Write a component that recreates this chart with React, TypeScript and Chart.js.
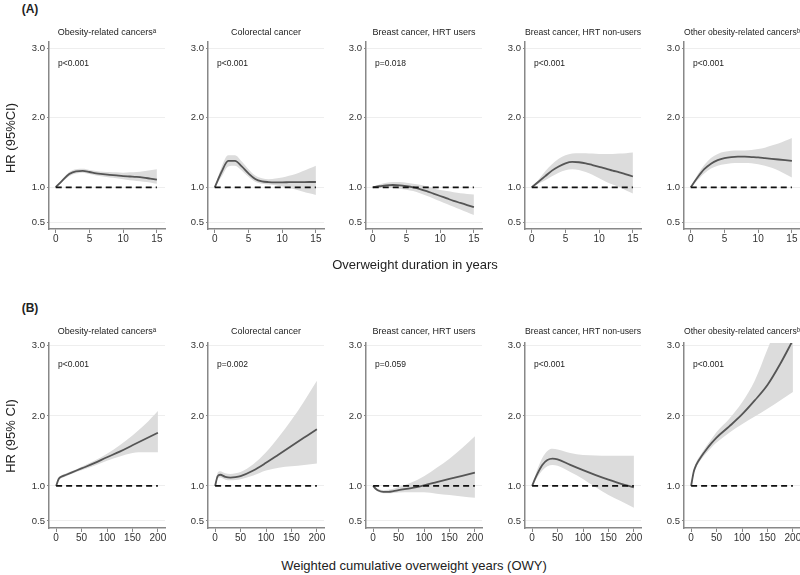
import React, { useEffect, useRef } from "react";
import { Chart, registerables } from "chart.js";

Chart.register(...registerables);
Chart.defaults.font.family = "'Liberation Sans', Arial, sans-serif";

// ---------- data ----------
const panelTitles = [
  "Obesity-related cancersᵃ",
  "Colorectal cancer",
  "Breast cancer, HRT users",
  "Breast cancer, HRT non-users",
  "Other obesity-related cancersᵇ",
];
const pValuesA = ["p<0.001", "p<0.001", "p=0.018", "p<0.001", "p<0.001"];
const pValuesB = ["p<0.001", "p=0.002", "p=0.059", "p<0.001", "p<0.001"];

const xTicksA = [0, 5, 10, 15];
const xTicksB = [0, 50, 100, 150, 200];
const yTicks = [0.5, 1, 2, 3];

// Row A: overweight duration in years
const yearsA = [0, 1, 2, 3, 4, 5, 6, 7, 8, 9, 10, 11, 12, 13, 14, 15];

const hrA1 = [1.0, 1.1, 1.19, 1.23, 1.235, 1.22, 1.2, 1.19, 1.18, 1.17, 1.16, 1.155, 1.15, 1.14, 1.125, 1.11];
const loA1 = [1.0, 1.08, 1.16, 1.2, 1.21, 1.19, 1.17, 1.155, 1.14, 1.13, 1.115, 1.1, 1.09, 1.08, 1.07, 1.05];
const hiA1 = [1.0, 1.12, 1.22, 1.26, 1.265, 1.25, 1.235, 1.225, 1.22, 1.215, 1.21, 1.215, 1.22, 1.23, 1.245, 1.26];

const hrA2 = [1.0, 1.22, 1.38, 1.38, 1.3, 1.2, 1.12, 1.085, 1.075, 1.072, 1.072, 1.073, 1.074, 1.075, 1.076, 1.076];
const loA2 = [1.0, 1.15, 1.3, 1.31, 1.24, 1.15, 1.08, 1.05, 1.04, 1.03, 1.01, 0.99, 0.97, 0.94, 0.915, 0.89];
const hiA2 = [1.0, 1.29, 1.46, 1.46, 1.37, 1.26, 1.17, 1.13, 1.115, 1.125, 1.14, 1.165, 1.19, 1.23, 1.27, 1.31];

const hrA3 = [1.0, 1.015, 1.028, 1.033, 1.028, 1.015, 0.998, 0.975, 0.945, 0.91, 0.875, 0.84, 0.805, 0.775, 0.745, 0.715];
const loA3 = [1.0, 0.99, 0.995, 0.99, 0.98, 0.965, 0.945, 0.915, 0.88, 0.84, 0.8, 0.76, 0.72, 0.68, 0.64, 0.6];
const hiA3 = [1.0, 1.04, 1.065, 1.075, 1.075, 1.065, 1.05, 1.035, 1.01, 0.985, 0.96, 0.945, 0.93, 0.915, 0.905, 0.895];

const hrA4 = [1.0, 1.08, 1.16, 1.24, 1.3, 1.345, 1.365, 1.36, 1.345, 1.32, 1.295, 1.27, 1.24, 1.215, 1.185, 1.155];
const loA4 = [1.0, 1.05, 1.1, 1.16, 1.21, 1.245, 1.26, 1.25, 1.22, 1.18, 1.13, 1.08, 1.04, 1.0, 0.955, 0.91];
const hiA4 = [1.0, 1.11, 1.23, 1.33, 1.41, 1.46, 1.485, 1.49, 1.49, 1.485, 1.48, 1.48, 1.48, 1.485, 1.49, 1.5];

const hrA5 = [1.0, 1.14, 1.26, 1.34, 1.39, 1.42, 1.435, 1.44, 1.44, 1.435, 1.43, 1.42, 1.41, 1.4, 1.39, 1.38];
const loA5 = [1.0, 1.1, 1.2, 1.27, 1.31, 1.33, 1.345, 1.35, 1.35, 1.345, 1.33, 1.31, 1.28, 1.24, 1.19, 1.14];
const hiA5 = [1.0, 1.18, 1.32, 1.42, 1.48, 1.51, 1.525, 1.53, 1.53, 1.535, 1.55, 1.57, 1.6, 1.63, 1.67, 1.71];

// Row B: weighted cumulative overweight years (OWY)
const owyB = [0, 5, 10, 20, 30, 40, 50, 75, 100, 125, 150, 175, 200];

const hrB1 = [1.0, 1.1, 1.13, 1.16, 1.19, 1.22, 1.25, 1.325, 1.41, 1.49, 1.58, 1.67, 1.76];
const loB1 = [1.0, 1.08, 1.11, 1.14, 1.17, 1.2, 1.225, 1.29, 1.36, 1.42, 1.47, 1.48, 1.48];
const hiB1 = [1.0, 1.12, 1.15, 1.18, 1.21, 1.24, 1.275, 1.36, 1.46, 1.58, 1.72, 1.88, 2.07];

const hrB2 = [1.0, 1.14, 1.16, 1.13, 1.12, 1.125, 1.14, 1.22, 1.33, 1.45, 1.57, 1.69, 1.81];
const loB2 = [1.0, 1.1, 1.12, 1.09, 1.08, 1.085, 1.095, 1.15, 1.22, 1.26, 1.28, 1.3, 1.32];
const hiB2 = [1.0, 1.19, 1.21, 1.18, 1.17, 1.18, 1.2, 1.31, 1.48, 1.7, 1.94, 2.21, 2.5];

const hrB3 = [1.0, 0.96, 0.935, 0.915, 0.915, 0.925, 0.94, 0.97, 1.01, 1.055, 1.1, 1.145, 1.19];
const loB3 = [1.0, 0.95, 0.92, 0.895, 0.895, 0.9, 0.905, 0.91, 0.91, 0.89, 0.87, 0.85, 0.83];
const hiB3 = [1.0, 0.975, 0.955, 0.94, 0.945, 0.96, 0.985, 1.05, 1.14, 1.26, 1.39, 1.54, 1.71];

const hrB4 = [1.0, 1.09, 1.17, 1.3, 1.37, 1.39, 1.38, 1.3, 1.225, 1.155, 1.09, 1.03, 0.98];
const loB4 = [1.0, 1.06, 1.12, 1.22, 1.28, 1.3, 1.29, 1.2, 1.1, 0.98, 0.87, 0.78, 0.69];
const hiB4 = [1.0, 1.12, 1.23, 1.4, 1.5, 1.53, 1.52, 1.47, 1.44, 1.435, 1.43, 1.43, 1.43];

const hrB5 = [1.0, 1.2, 1.3, 1.42, 1.52, 1.61, 1.69, 1.85, 2.02, 2.22, 2.44, 2.74, 3.08];
const loB5 = [1.0, 1.17, 1.26, 1.38, 1.47, 1.55, 1.62, 1.76, 1.88, 1.99, 2.1, 2.22, 2.34];
const hiB5 = [1.0, 1.23, 1.34, 1.46, 1.57, 1.67, 1.77, 1.96, 2.19, 2.5, 2.95, 3.4, 3.8];

// ---------- layout ----------
const PLOT_W = 116;
const Y_AXIS_W = 34;
const RIGHT_PAD = 34;
const X_AXIS_H = 25;
const plotLeft = (c: number) => Math.round(49 + 158.7 * c);

type PanelCfg = {
  row: number;
  col: number;
  title: string;
  p: string;
  xs: number[];
  mean: number[];
  lo: number[];
  hi: number[];
  xTicks: number[];
  xMin: number;
  xMax: number;
  yMax: number;
  canvasTop: number;
  plotTop: number;
  plotBottom: number;
};

const rowA = { canvasTop: 27, plotTop: 42, plotBottom: 229, xMin: -1, xMax: 16.2, yMax: 3.09 };
const rowB = { canvasTop: 326, plotTop: 343, plotBottom: 528, xMin: -14, xMax: 214, yMax: 3.04 };

const seriesA = [
  [hrA1, loA1, hiA1],
  [hrA2, loA2, hiA2],
  [hrA3, loA3, hiA3],
  [hrA4, loA4, hiA4],
  [hrA5, loA5, hiA5],
];
const seriesB = [
  [hrB1, loB1, hiB1],
  [hrB2, loB2, hiB2],
  [hrB3, loB3, hiB3],
  [hrB4, loB4, hiB4],
  [hrB5, loB5, hiB5],
];

const panels: PanelCfg[] = [];
seriesA.forEach((s, c) =>
  panels.push({
    row: 0, col: c, title: panelTitles[c], p: pValuesA[c], xs: yearsA,
    mean: s[0], lo: s[1], hi: s[2], xTicks: xTicksA, ...rowA,
  })
);
seriesB.forEach((s, c) =>
  panels.push({
    row: 1, col: c, title: panelTitles[c], p: pValuesB[c], xs: owyB,
    mean: s[0], lo: s[1], hi: s[2], xTicks: xTicksB, ...rowB,
  })
);

const pts = (xs: number[], ys: number[]) => xs.map((x, i) => ({ x, y: ys[i] }));

function Panel({ cfg }: { cfg: PanelCfg }) {
  const ref = useRef<HTMLCanvasElement>(null);
  const width = Y_AXIS_W + PLOT_W + RIGHT_PAD;
  const height = cfg.plotBottom - cfg.canvasTop + X_AXIS_H;
  const titlePad = cfg.plotTop - cfg.canvasTop - 12;

  useEffect(() => {
    if (!ref.current) return;
    const pPlugin = {
      id: "pText",
      afterDraw(chart: any) {
        const { ctx, chartArea } = chart;
        ctx.save();
        ctx.font = "8.5px 'Liberation Sans', Arial, sans-serif";
        ctx.fillStyle = "#222";
        ctx.textBaseline = "middle";
        ctx.textAlign = "left";
        ctx.fillText(cfg.p, chartArea.left + 9, chartArea.top + 22);
        ctx.restore();
      },
    };
    const x0 = cfg.xs[0];
    const x1 = cfg.xs[cfg.xs.length - 1];
    const chart = new Chart(ref.current, {
      type: "line",
      data: {
        datasets: [
          {
            data: [{ x: x0, y: 1 }, { x: x1, y: 1 }],
            borderColor: "#111",
            borderWidth: 1.8,
            borderDash: [6, 4],
            pointRadius: 0,
            fill: false,
            tension: 0,
          },
          {
            data: pts(cfg.xs, cfg.mean),
            borderColor: "#555",
            borderWidth: 1.8,
            pointRadius: 0,
            fill: false,
            cubicInterpolationMode: "monotone",
          },
          {
            data: pts(cfg.xs, cfg.hi),
            borderColor: "rgba(0,0,0,0)",
            borderWidth: 0,
            backgroundColor: "#dcdcdc",
            fill: "+1",
            pointRadius: 0,
            cubicInterpolationMode: "monotone",
          },
          {
            data: pts(cfg.xs, cfg.lo),
            borderColor: "rgba(0,0,0,0)",
            borderWidth: 0,
            pointRadius: 0,
            fill: false,
            cubicInterpolationMode: "monotone",
          },
        ],
      },
      options: {
        animation: false,
        responsive: false,
        events: [],
        layout: { padding: { left: 0, right: RIGHT_PAD, top: 0, bottom: 0 } },
        plugins: {
          legend: { display: false },
          tooltip: { enabled: false },
          filler: { drawTime: "beforeDatasetsDraw" },
          title: {
            display: true,
            fullSize: false,
            text: cfg.title,
            color: "#222",
            font: { size: 9, weight: "normal", lineHeight: "12px" },
            padding: { top: 0, bottom: titlePad },
          },
        },
        scales: {
          x: {
            type: "linear",
            min: cfg.xMin,
            max: cfg.xMax,
            afterBuildTicks: (s: any) => {
              s.ticks = cfg.xTicks.map((v) => ({ value: v }));
            },
            afterFit: (s: any) => {
              s.height = X_AXIS_H;
            },
            grid: { drawOnChartArea: false, drawTicks: true, tickLength: 4, tickColor: "#888", tickWidth: 1 },
            border: { display: true, color: "#888", width: 1.5 },
            ticks: {
              autoSkip: false,
              maxRotation: 0,
              padding: 0,
              color: "#333",
              font: { size: 10 },
              callback: (v: any) => String(v),
            },
          },
          y: {
            type: "linear",
            min: 0.4,
            max: cfg.yMax,
            afterBuildTicks: (s: any) => {
              s.ticks = yTicks.map((v) => ({ value: v }));
            },
            afterFit: (s: any) => {
              s.width = Y_AXIS_W;
            },
            grid: { drawOnChartArea: true, color: "#eeeeee", lineWidth: 1, drawTicks: true, tickLength: 2, tickColor: "#888" },
            border: { display: true, color: "#888", width: 1.5 },
            ticks: {
              autoSkip: false,
              padding: 2,
              color: "#333",
              font: { size: 9.5 },
              callback: (v: any) => Number(v).toFixed(1),
            },
          },
        },
      },
      plugins: [pPlugin],
    } as any);
    return () => chart.destroy();
  }, []);

  return (
    <canvas
      ref={ref}
      width={width}
      height={height}
      style={{
        position: "absolute",
        left: plotLeft(cfg.col) - Y_AXIS_W,
        top: cfg.canvasTop,
        width,
        height,
      }}
    />
  );
}

const textBase: React.CSSProperties = {
  position: "absolute",
  fontFamily: "'Liberation Sans', Arial, sans-serif",
  color: "#222",
  whiteSpace: "nowrap",
  lineHeight: 1,
};

function CenterText({ x, y, size, bold, rotate, children }: any) {
  return (
    <div
      style={{
        ...textBase,
        left: x,
        top: y,
        fontSize: size,
        fontWeight: bold ? "bold" : "normal",
        transform: `translate(-50%, -50%)${rotate ? " rotate(-90deg)" : ""}`,
      }}
    >
      {children}
    </div>
  );
}

export default function App() {
  return (
    <div
      style={{
        position: "absolute",
        left: 0,
        top: 0,
        width: 800,
        height: 575,
        overflow: "hidden",
        background: "#fff",
      }}
    >
      {panels.map((cfg, i) => (
        <Panel key={i} cfg={cfg} />
      ))}
      <CenterText x={30} y={9} size={12} bold>(A)</CenterText>
      <CenterText x={30} y={308} size={12} bold>(B)</CenterText>
      <CenterText x={10} y={138} size={13} rotate>HR (95%CI)</CenterText>
      <CenterText x={10} y={436} size={13} rotate>HR (95% CI)</CenterText>
      <CenterText x={415} y={264} size={13}>Overweight duration in years</CenterText>
      <CenterText x={414} y={565} size={13}>Weighted cumulative overweight years (OWY)</CenterText>
    </div>
  );
}
